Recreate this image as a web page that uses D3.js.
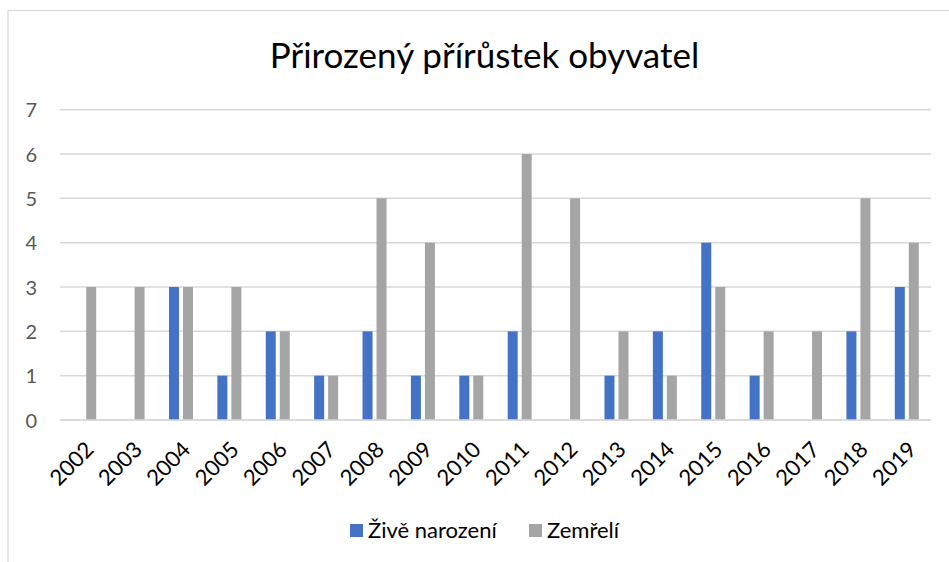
<!DOCTYPE html>
<html>
<head>
<meta charset="utf-8">
<script src="https://cdn.jsdelivr.net/npm/d3@7"></script>
<style>
    html, body { margin: 0; padding: 0; background: #fff; }
    svg { display: block; font-family: Lato, "Open Sans", sans-serif; }
</style>
</head>
<body>
<div id="chart"></div>
<script>
// roky
var years = ["2002", "2003", "2004", "2005", "2006", "2007", "2008", "2009", "2010",
    "2011", "2012", "2013", "2014", "2015", "2016", "2017", "2018", "2019"];
// série
var seriesNames = ["Živě narození", "Zemřelí"];
var narozeni = [0, 0, 3, 1, 2, 1, 2, 1, 1, 2, 0, 1, 2, 4, 1, 0, 2, 3];
var zemreli = [3, 3, 3, 3, 2, 1, 5, 4, 1, 6, 5, 2, 1, 3, 2, 2, 5, 4];
var yTicks = [0, 1, 2, 3, 4, 5, 6, 7];
var colors = ["#4472c4", "#a5a5a5"];
var title = "Přirozený přírůstek obyvatel";

var width = 949, height = 562;
var margin = {top: 110, right: 18, bottom: 142, left: 60};

var svg = d3.select("#chart").append("svg")
    .attr("width", width)
    .attr("height", height);

// rámeček grafu
svg.append("rect")
    .attr("x", 8)
    .attr("y", 10.5)
    .attr("width", 960)
    .attr("height", 600)
    .attr("fill", "none")
    .attr("stroke", "#d9d9d9")
    .attr("stroke-width", 1.2);

svg.append("text")
    .attr("x", 484.5)
    .attr("y", 68)
    .attr("text-anchor", "middle")
    .attr("font-size", 35)
    .attr("fill", "#000")
    .text(title);

var x0 = d3.scaleBand()
    .domain(years)
    .range([margin.left, width - margin.right])
    .paddingInner(0)
    .paddingOuter(0);

var x1 = d3.scaleBand()
    .domain(seriesNames)
    .range([-12, 12])
    .paddingInner(0.2857)
    .paddingOuter(0);

var y = d3.scaleLinear()
    .domain([0, 7])
    .range([height - margin.bottom, 109.7]);

//mřížka
svg.append("g")
    .attr("id", "grid")
    .selectAll("line")
    .data(yTicks)
    .enter()
    .append("line")
    .attr("x1", margin.left)
    .attr("x2", width - margin.right)
    .attr("y1", function (d) { return y(d); })
    .attr("y2", function (d) { return y(d); })
    .attr("stroke", "#d9d9d9")
    .attr("stroke-width", 1.5);

var yAxis = d3.axisLeft(y).tickValues(yTicks).tickFormat(d3.format("d")).tickSize(0).tickPadding(0);
var gy = svg.append("g")
    .attr("transform", "translate(37,0)")
    .call(yAxis);
gy.select(".domain").remove();
gy.selectAll("text")
    .attr("font-size", 20)
    .attr("font-family", "Lato, 'Open Sans', sans-serif")
    .attr("fill", "#595959")
    .attr("dy", "0.35em");

// sloupce
var data = years.map(function (yr, i) {
    return {year: yr, values: [narozeni[i], zemreli[i]]};
});

var groups = svg.append("g")
    .attr("id", "bars")
    .selectAll("g")
    .data(data)
    .enter()
    .append("g")
    .attr("transform", function (d) {
        return "translate(" + (x0(d.year) + x0.bandwidth() / 2) + ",0)";
    });

groups.selectAll("rect")
    .data(function (d) {
        return d.values.map(function (v, k) { return {name: seriesNames[k], value: v, k: k}; });
    })
    .enter()
    .append("rect")
    .attr("x", function (d) { return x1(d.name); })
    .attr("width", x1.bandwidth())
    .attr("y", function (d) { return y(d.value); })
    .attr("height", function (d) { return y(0) - y(d.value); })
    .attr("fill", function (d) { return colors[d.k]; });

// osa x
svg.append("line")
    .attr("x1", margin.left)
    .attr("x2", width - margin.right)
    .attr("y1", y(0))
    .attr("y2", y(0))
    .attr("stroke", "#d9d9d9")
    .attr("stroke-width", 1.5);

var xAxis = d3.axisBottom(x0).tickSize(0).tickPadding(0);
var gx = svg.append("g")
    .attr("transform", "translate(0," + (y(0) + 20) + ")")
    .call(xAxis);
gx.select(".domain").remove();
gx.selectAll("text")
    .attr("font-size", 22)
    .attr("font-family", "Lato, 'Open Sans', sans-serif")
    .attr("fill", "#000")
    .attr("text-anchor", "end")
    .attr("dy", "0.7em")
    .attr("transform", "translate(0,0) rotate(-45)");

// legenda
var legend = svg.append("g").attr("id", "legend");
var legendX = [350, 529];
seriesNames.forEach(function (name, k) {
    legend.append("rect")
        .attr("x", legendX[k])
        .attr("y", 524)
        .attr("width", 13)
        .attr("height", 13)
        .attr("fill", colors[k]);
    legend.append("text")
        .attr("x", legendX[k] + 18)
        .attr("y", 538)
        .attr("font-size", 22)
        .attr("fill", "#000")
        .text(name);
});
</script>
</body>
</html>
